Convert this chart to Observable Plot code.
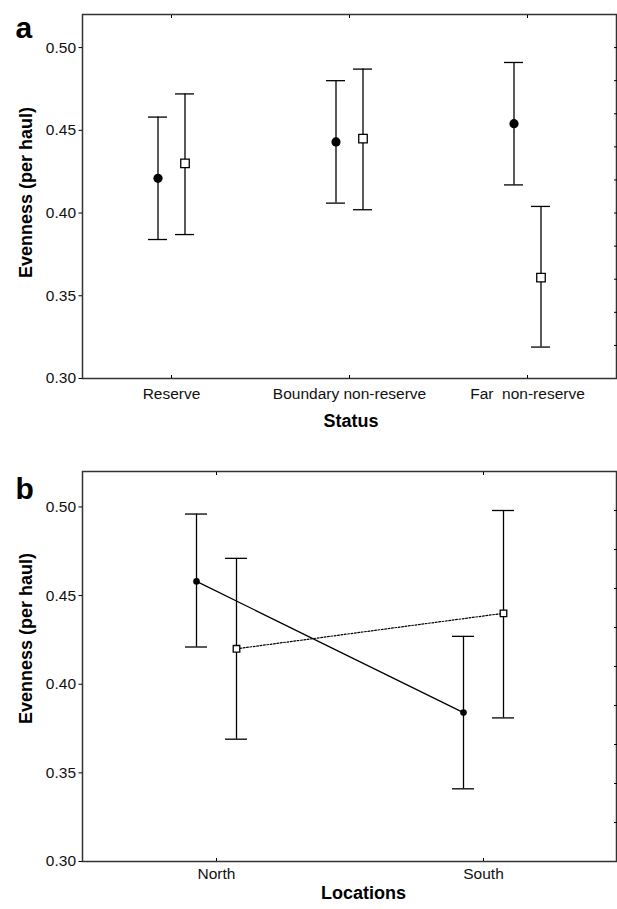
<!DOCTYPE html>
<html>
<head>
<meta charset="utf-8">
<script src="https://cdn.jsdelivr.net/npm/d3@7"></script>
<script src="https://cdn.jsdelivr.net/npm/@observablehq/plot@0.6"></script>
<style>
  body { margin: 0; background: #fff; }
  #chart { width: 617px; }
  #chart svg { display: block; }
  #chart svg text { white-space: pre; }
</style>
</head>
<body>
<div id="chart"></div>
<script>
// ---------- Panel a data ----------
const statusCats = ["Reserve", "Boundary non-reserve", "Far  non-reserve"];
const aCircleMean = [0.421, 0.443, 0.454];
const aCircleLo   = [0.384, 0.406, 0.417];
const aCircleHi   = [0.458, 0.480, 0.491];
const aSquareMean = [0.430, 0.445, 0.361];
const aSquareLo   = [0.387, 0.402, 0.319];
const aSquareHi   = [0.472, 0.487, 0.404];

// ---------- Panel b data ----------
const locationCats = ["North", "South"];
const bCircleMean = [0.458, 0.384];
const bCircleLo   = [0.421, 0.341];
const bCircleHi   = [0.496, 0.427];
const bSquareMean = [0.420, 0.440];
const bSquareLo   = [0.369, 0.381];
const bSquareHi   = [0.471, 0.498];

// ---------- Axes ----------
const yDomain = [0.30, 0.52];
const yTicks = [0.30, 0.35, 0.40, 0.45, 0.50];
const rightTicksA = [0.32, 0.34, 0.36, 0.38, 0.40, 0.42, 0.44, 0.46, 0.48, 0.50];
const rightTicksB = [0.322, 0.344, 0.366, 0.388, 0.410, 0.432, 0.454, 0.476, 0.498];
const yTitle = "Evenness (per haul)";

function buildRows(cats, series, mean, lo, hi) {
  return cats.map((c, i) => ({cat: c, series, mean: mean[i], lo: lo[i], hi: hi[i]}));
}

const FONT = "'Liberation Sans', Arial, Helvetica, sans-serif";

function panel(o) {
  const circles = buildRows(o.cats, "circle", o.cMean, o.cLo, o.cHi);
  const squares = buildRows(o.cats, "square", o.sMean, o.sLo, o.sHi);
  const marks = [
    Plot.frame({stroke: "#333", strokeWidth: 1.5}),
    Plot.axisY({ticks: yTicks, tickFormat: ".2f", tickSize: 3.5, tickPadding: 3, fontSize: 15.5, fill: "#111", label: null}),
    Plot.axisY({anchor: "right", ticks: o.rightTicks, tickSize: -3, tickFormat: () => "", label: null}),
    Plot.axisX({anchor: "bottom", tickSize: -3, tickPadding: o.xTickPad, fontSize: 15.5, fill: "#111", label: null}),
    Plot.axisX({anchor: "top", tickSize: -3, tickFormat: () => "", label: null}),
  ];
  if (o.lines) {
    marks.push(
      Plot.line(circles, {x: "cat", y: "mean", dx: -o.off, stroke: "#000", strokeWidth: 1.3}),
      Plot.line(squares, {x: "cat", y: "mean", dx: o.off, stroke: "#000", strokeWidth: 1.2, strokeDasharray: "1.8,1.6"})
    );
  }
  for (const [rows, d] of [[circles, -o.off], [squares, o.off]]) {
    marks.push(
      Plot.ruleX(rows, {x: "cat", y1: "lo", y2: "hi", dx: d, stroke: "#000", strokeWidth: 1.3}),
      Plot.ruleY(rows, {x1: "cat", x2: "cat", y: "hi", dx: d, insetLeft: -o.cap, insetRight: -o.cap, stroke: "#000", strokeWidth: 1.3}),
      Plot.ruleY(rows, {x1: "cat", x2: "cat", y: "lo", dx: d, insetLeft: -o.cap, insetRight: -o.cap, stroke: "#000", strokeWidth: 1.3})
    );
  }
  marks.push(
    Plot.dot(circles, {x: "cat", y: "mean", dx: -o.off, r: o.rC, symbol: "circle", fill: "#000"}),
    Plot.dot(squares, {x: "cat", y: "mean", dx: o.off, r: o.rS, symbol: "square", fill: "#fff", stroke: "#000", strokeWidth: 1.3}),
    Plot.text([yTitle], {text: d => d, frameAnchor: "left", rotate: -90, dx: -56.5, dy: o.yTitleDy, fontSize: 18, fontWeight: "bold", fill: "#000", textAnchor: "middle"}),
    Plot.text([o.xTitle], {text: d => d, frameAnchor: "bottom", dx: o.xTitleDx, dy: o.xTitleDy, fontSize: 18, fontWeight: "bold", fill: "#000", textAnchor: "middle"}),
    Plot.text([o.letter], {text: d => d, frameAnchor: "top-left", dx: -67, dy: o.letterDy, fontSize: 30, fontWeight: "bold", fill: "#000", textAnchor: "start"})
  );
  return Plot.plot({
    width: 617,
    height: o.height,
    marginTop: o.mt,
    marginBottom: o.mb,
    marginLeft: 82,
    marginRight: 1,
    style: {fontFamily: FONT, background: "#fff", overflow: "visible"},
    x: {type: "point", domain: o.cats, padding: 0.5, axis: null},
    y: {domain: yDomain, axis: null},
    marks
  });
}

const chart = document.getElementById("chart");
chart.append(panel({
  cats: statusCats,
  cMean: aCircleMean, cLo: aCircleLo, cHi: aCircleHi,
  sMean: aSquareMean, sLo: aSquareLo, sHi: aSquareHi,
  rightTicks: rightTicksA, lines: false,
  height: 440, mt: 14, mb: 62, off: 13.5, cap: 9.5, rC: 4.6, rS: 4.8,
  xTickPad: 12, xTitle: "Status", xTitleDx: 1.5, xTitleDy: 48,
  yTitleDy: -4, letter: "a", letterDy: 2.4
}));
chart.append(panel({
  cats: locationCats,
  cMean: bCircleMean, cLo: bCircleLo, cHi: bCircleHi,
  sMean: bSquareMean, sLo: bSquareLo, sHi: bSquareHi,
  rightTicks: rightTicksB, lines: true,
  height: 469, mt: 31, mb: 48, off: 20, cap: 11, rC: 3.3, rS: 3.7,
  xTickPad: 9, xTitle: "Locations", xTitleDx: 14, xTitleDy: 37,
  yTitleDy: -28, letter: "b", letterDy: 6.4
}));
</script>
</body>
</html>
